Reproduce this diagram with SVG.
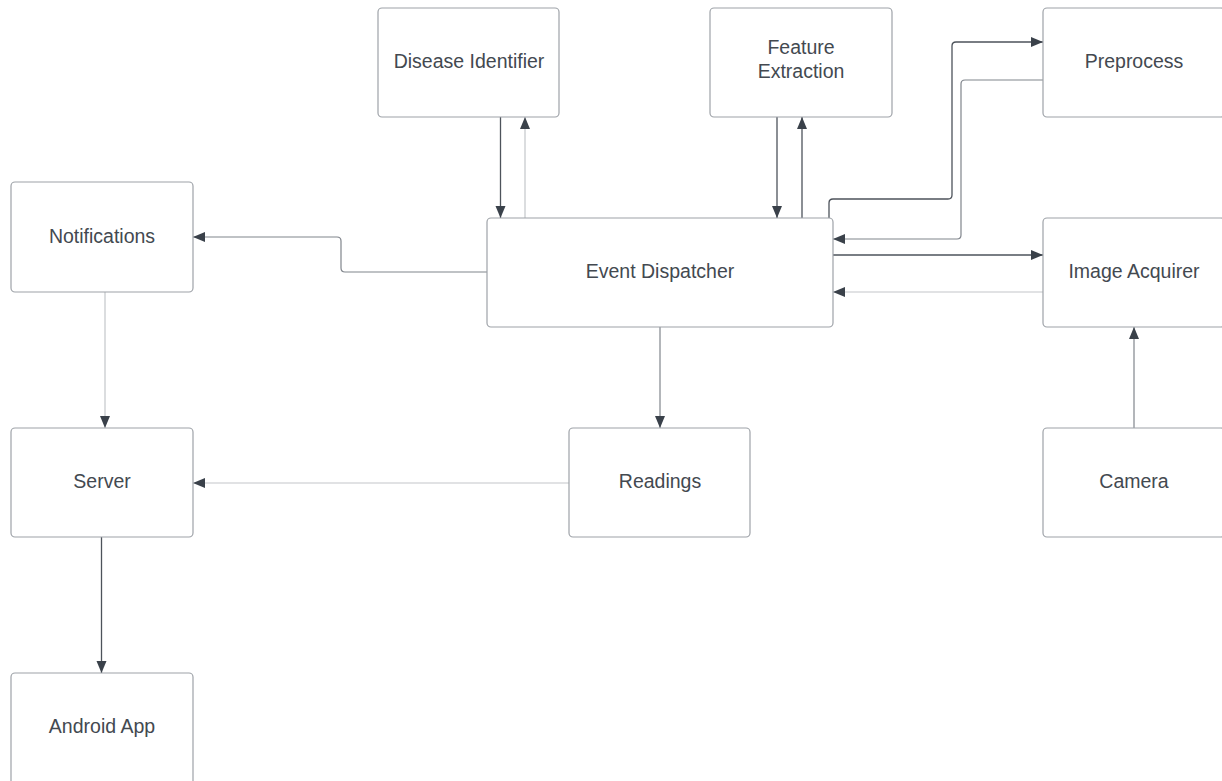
<svg xmlns="http://www.w3.org/2000/svg" width="1222" height="781" viewBox="0 0 1222 781">
<style>
.box{fill:#ffffff;stroke:#9ea2a8;stroke-width:1.2}
.lbl{font-family:"Liberation Sans",Arial,sans-serif;font-size:19.5px;fill:#434950;text-anchor:middle}
.dk{fill:none;stroke:#4d535b;stroke-width:1.3}
.md{fill:none;stroke:#80858c;stroke-width:1.2}
.lt{fill:none;stroke:#c3c6ca;stroke-width:1.2}
</style>
<defs>
<marker id="ah" markerUnits="userSpaceOnUse" markerWidth="14" markerHeight="12" refX="12" refY="5" orient="auto">
<path d="M0,0 L12,5 L0,10 z" fill="#3a414a"/>
</marker>
</defs>
<rect width="1222" height="781" fill="#ffffff"/>
<g id="connectors">
<path class="dk" d="M500.5 117 V218" marker-end="url(#ah)"/>
<path class="lt" d="M525 218 V117" marker-end="url(#ah)"/>
<path class="dk" d="M777 117 V218" marker-end="url(#ah)"/>
<path class="dk" d="M802 218 V117" marker-end="url(#ah)"/>
<path class="dk" d="M829 218 V203 Q829 199 833 199 H948 Q952 199 952 195 V46 Q952 42 956 42 H1043" marker-end="url(#ah)"/>
<path class="md" d="M1043 80 H965 Q961 80 961 84 V235 Q961 239 957 239 H833" marker-end="url(#ah)"/>
<path class="dk" d="M833 255 H1043" marker-end="url(#ah)"/>
<path class="lt" d="M1043 292 H833" marker-end="url(#ah)"/>
<path class="md" d="M1134 428 V327" marker-end="url(#ah)"/>
<path class="md" d="M487 272 H345 Q341 272 341 268 V241 Q341 237 337 237 H193" marker-end="url(#ah)"/>
<path class="lt" d="M105 292 V428" marker-end="url(#ah)"/>
<path class="md" d="M660 327 V428" marker-end="url(#ah)"/>
<path class="lt" d="M569 483 H193" marker-end="url(#ah)"/>
<path class="dk" d="M101.5 537 V673" marker-end="url(#ah)"/>
</g>
<g id="disease-identifier"><rect class="box" x="378" y="8" width="181" height="109" rx="4"/><text class="lbl" x="469" y="68">Disease Identifier</text></g>
<g id="feature-extraction"><rect class="box" x="710" y="8" width="182" height="109" rx="4"/><text class="lbl" x="801" y="54">Feature</text><text class="lbl" x="801" y="78">Extraction</text></g>
<g id="preprocess"><rect class="box" x="1043" y="8" width="182" height="109" rx="4"/><text class="lbl" x="1134" y="68">Preprocess</text></g>
<g id="notifications"><rect class="box" x="11" y="182" width="182" height="110" rx="4"/><text class="lbl" x="102" y="243">Notifications</text></g>
<g id="event-dispatcher"><rect class="box" x="487" y="218" width="346" height="109" rx="4"/><text class="lbl" x="660" y="278">Event Dispatcher</text></g>
<g id="image-acquirer"><rect class="box" x="1043" y="218" width="182" height="109" rx="4"/><text class="lbl" x="1134" y="278">Image Acquirer</text></g>
<g id="server"><rect class="box" x="11" y="428" width="182" height="109" rx="4"/><text class="lbl" x="102" y="488">Server</text></g>
<g id="readings"><rect class="box" x="569" y="428" width="181" height="109" rx="4"/><text class="lbl" x="660" y="488">Readings</text></g>
<g id="camera"><rect class="box" x="1043" y="428" width="182" height="109" rx="4"/><text class="lbl" x="1134" y="488">Camera</text></g>
<g id="android-app"><rect class="box" x="11" y="673" width="182" height="112" rx="4"/><text class="lbl" x="102" y="733">Android App</text></g>
</svg>
